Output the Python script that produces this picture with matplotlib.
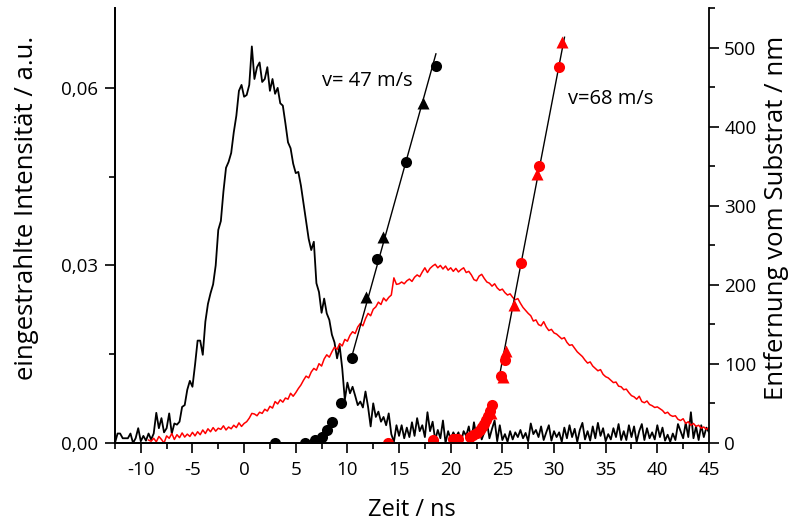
import numpy as np
import matplotlib
matplotlib.use("Agg")
import matplotlib.pyplot as plt
from matplotlib.ticker import MultipleLocator, FuncFormatter

plt.rcParams["font.family"] = ["Open Sans", "DejaVu Sans"]
plt.rcParams["axes.unicode_minus"] = False

# ---- emission intensity traces (units of 1e-3 a.u.), sampled every 0.25 ns ----
STEP = 0.25

# black trace: (start time / ns, values)
black_segments = [
    (-12.5, [0.0, 1.6, 1.6, 0.8, 0.8, 0.8, 1.6, 0.0, 0.8, 2.5, 0.3, 1.2, 0.4, 1.6, 0.6, 1.6]),
    (-8.5, [5.1, 2.5, 4.2, 1.8, 2.5, 5.0, 1.6, 3.3, 3.1, 3.6, 6.1, 6.4, 9.0, 10.5, 9.5,
            13.2, 17.3, 17.3, 14.9, 20.5, 23.5, 25.3, 26.8, 30.0, 36.0, 37.5]),
    (-2.0, [42.5, 46.5, 47.5, 49.0, 52.5, 55.3, 59.5, 60.5, 58.5, 58.8, 60.5, 67.0, 61.5,
            63.5, 64.3, 61.0, 61.5, 63.5, 59.5, 61.5, 59.0, 60.0, 57.4, 57.0, 54.0, 50.8,
            49.8, 47.2, 45.6, 45.8, 43.5, 40.5, 37.5]),
    (6.25, [34.5, 32.6, 34.0, 27.0, 25.5, 22.0, 24.4, 21.9, 20.8, 18.3, 17.0, 14.3, 16.4,
            12.6, 7.3, 10.2, 8.4, 9.5, 8.0, 6.4, 7.0, 6.0, 8.7, 6.1, 2.8, 6.7, 4.4, 5.3,
            3.6, 4.4, 3.0, 5.0, 1.5, 0.2, 3.0]),
    (15.0, [1.2, 3.0, 0.8, 2.6, 1.0, 3.5, 1.2, 4.2, 2.0, 3.0, 1.0, 5.2, 2.0, 3.6, 0.5, 2.2,
            0.8, 3.8, 0.0, 2.0, 0.6, 1.8, 1.0, 1.8, 0.2, 2.0, 1.2, 2.8, 0.4, 3.5, 1.0, 2.6,
            0.6, 1.8, 3.6, 0.8, 2.4, 3.8, 0.3, 3.0, 0.5, 1.5, 0.2, 2.0, 0.6, 1.8, 1.0, 2.2,
            0.8, 1.7, 0.3, 3.3, 1.5, 2.2, 1.0, 2.8, 0.5, 1.8, 3.0, 0.4, 2.0, 1.0, 1.8, 0.2,
            2.6, 0.8, 3.0, 1.0, 2.4, 0.2, 2.2, 3.4, 0.6, 2.0, 0.4, 2.8, 0.8, 3.4, 1.2, 2.5,
            0.3, 1.5, 0.6, 2.5, 1.0, 3.2, 0.5, 2.0, 0.5, 3.0, 1.0, 2.8, 0.2, 2.0, 3.2, 0.5,
            2.5, 0.8, 1.8, 0.6, 3.0, 1.0, 2.6, 0.4, 1.4, 0.2, 1.6, 0.5, 3.2, 2.0, 0.8, 3.4,
            1.0, 5.2, 0.8, 2.8, 0.5, 3.0, 1.0, 2.6, 1.8]),
]

# red trace
red_segments = [
    (-9.25, [0.5, 0.3, 0.8, 0.2, 1.1, 0.6, 0.0, 1.2, 0.8, 1.6, 0.6, 1.4, 0.9, 1.7, 1.0, 1.5,
             1.1, 1.8]),
    (-4.75, [1.2, 1.9, 1.4, 2.2, 1.6, 2.4, 1.9, 2.6, 2.0, 2.5, 2.3, 2.9, 2.2, 2.7, 2.4, 3.0,
             2.6, 3.4, 2.8, 3.3]),
    (0.25, [3.6, 4.2, 5.0, 4.9, 4.6, 5.2, 5.0, 5.7, 5.4, 6.2, 5.9, 7.0, 6.6, 7.3, 6.9, 7.6,
            7.4, 8.4, 7.9, 8.5]),
    (5.25, [9.2, 9.8, 10.6, 11.3, 11.0, 12.0, 12.6, 12.3, 13.4, 13.0, 14.2, 14.9, 14.5, 15.4,
            16.2, 15.8, 16.8, 16.4, 17.5, 17.2]),
    (10.25, [18.2, 18.8, 18.5, 19.6, 20.2, 19.8, 21.0, 21.9, 21.5, 22.6, 23.0, 23.8, 23.4,
             24.5, 24.0, 24.6, 25.0, 27.9, 26.8, 26.9]),
    (15.25, [27.2, 26.9, 27.4, 27.7, 27.3, 28.0, 28.4, 28.1, 28.9, 29.6, 28.8, 29.5, 29.9,
             30.2, 29.6, 30.0, 29.4, 29.9, 29.2, 29.6]),
    (20.25, [29.0, 29.5, 28.9, 29.3, 29.6, 28.8, 29.0, 28.4, 27.6, 27.4, 28.2, 28.5, 27.8,
             27.2, 27.0, 26.5, 26.9, 26.2, 25.8, 26.0]),
    (25.25, [25.4, 25.0, 25.2, 24.6, 24.2, 24.4, 23.6, 22.9, 22.4, 21.9, 21.5, 20.6, 20.8,
             20.0, 19.8, 20.5, 19.6, 19.0, 19.2, 18.6]),
    (30.25, [18.4, 18.0, 17.6, 17.8, 17.0, 16.5, 16.6, 16.0, 15.4, 15.0, 14.6, 14.0, 13.5,
             13.7, 13.0, 12.6, 12.2, 12.4, 11.6, 11.2]),
    (35.25, [11.0, 10.6, 10.2, 10.3, 9.6, 9.5, 9.0, 9.1, 8.5, 8.0, 7.8, 7.4, 7.9, 7.0, 6.8,
             7.1, 6.5, 6.3, 6.0, 6.1]),
    (40.25, [5.8, 5.5, 5.0, 5.2, 4.7, 4.5, 4.6, 4.0, 3.8, 4.1, 3.3, 3.6, 3.0, 3.3, 2.8, 3.0,
             2.5, 2.7, 2.3, 2.6]),
]

# ---- distance from substrate vs. time (nm) ----
black_circ_t = [2.95, 5.88, 6.85, 7.55, 7.98, 8.55, 9.35, 10.43, 12.88, 15.63, 18.57]
black_circ_d = [0, 0, 4, 8, 16, 27, 50, 108, 232, 355, 477]
black_tri_t = [11.79, 13.46, 17.27]
black_tri_d = [185, 261, 430]

red_circ_t = [13.95, 18.3, 20.25, 20.5, 20.75, 21.9, 22.2, 22.5, 22.8, 23.0, 23.2, 23.4,
              23.6, 23.8, 24.0, 24.85, 25.3, 26.85, 28.55, 30.45]
red_circ_d = [0, 4, 5, 5, 5, 7, 10, 13, 17, 20, 24, 29, 34, 40, 48, 85, 105, 227, 350, 475]
red_tri_t = [23.9, 25.1, 25.4, 26.1, 28.4, 30.73]
red_tri_d = [38, 84, 116, 174, 340, 507]

# linear fits: velocity (m/s = nm/ns), time at zero distance, distance span of the line
velocities = [47, 68]
fit_t0 = [8.1, 23.47]
fit_span = [(108, 492), (86, 513)]
fit_labels = ["v= 47 m/s", "v=68 m/s"]
label_pos = [(7.5, 458), (31.4, 435)]


def assemble(segments):
    t, y = [], []
    for t_start, vals in segments:
        t.extend(t_start + STEP * np.arange(len(vals)))
        y.extend(vals)
    return np.array(t), np.array(y) * 1e-3


bt, by = assemble(black_segments)
rt, ry = assemble(red_segments)

fig = plt.figure(figsize=(7.88, 5.25), dpi=100)
ax = fig.add_axes([0.1459, 0.1562, 0.7538, 0.8286])
ax2 = ax.twinx()

ax.plot(bt, by, color="black", lw=1.3)
ax.plot(rt, ry, color="red", lw=1.1)

for v, t0, (d0, d1) in zip(velocities, fit_t0, fit_span):
    d = np.array([d0, d1])
    ax2.plot(t0 + d / v, d, color="black", lw=1.0)

ms = 8
ax2.plot(black_circ_t, black_circ_d, "o", color="black", ms=ms, mec="none")
ax2.plot(black_tri_t, black_tri_d, "^", color="black", ms=ms, mec="none")
ax2.plot(red_circ_t, red_circ_d, "o", color="red", ms=ms, mec="none")
ax2.plot(red_tri_t, red_tri_d, "^", color="red", ms=ms, mec="none")

for txt, (x, y) in zip(fit_labels, label_pos):
    ax2.text(x, y, txt, fontsize=14.5, ha="left", va="center")

ax.set_xlim(-12.5, 45)
ax.set_ylim(0, 0.0735)
ax2.set_ylim(0, 550)

for a in (ax, ax2):
    a.spines["top"].set_visible(False)
    for s in a.spines.values():
        s.set_linewidth(1.3)
ax.spines["right"].set_visible(False)

ax.xaxis.set_major_locator(MultipleLocator(5))
ax.xaxis.set_minor_locator(MultipleLocator(2.5))
ax.yaxis.set_major_locator(MultipleLocator(0.03))
ax.yaxis.set_minor_locator(MultipleLocator(0.015))
ax.yaxis.set_major_formatter(FuncFormatter(lambda v, p: f"{v:.2f}".replace(".", ",")))
ax2.yaxis.set_major_locator(MultipleLocator(100))
ax2.yaxis.set_minor_locator(MultipleLocator(50))

for a in (ax, ax2):
    a.tick_params(which="major", direction="out", length=7, width=1.2, labelsize=13.5)
    a.tick_params(which="minor", direction="out", length=4.5, width=1.2)
ax.tick_params(axis="y", pad=5)
ax.tick_params(axis="x", pad=6)
ax2.tick_params(axis="y", pad=4)

ax.set_xlabel("Zeit / ns", fontsize=17, labelpad=14)
ax.set_ylabel("eingestrahlte Intensität / a.u.", fontsize=18.5)
ax2.set_ylabel("Entfernung vom Substrat / nm", fontsize=18.5)
ax.yaxis.set_label_coords(-0.128, 0.54)
ax2.yaxis.set_label_coords(1.092, 0.517)

fig.savefig("out.png", dpi=100)
